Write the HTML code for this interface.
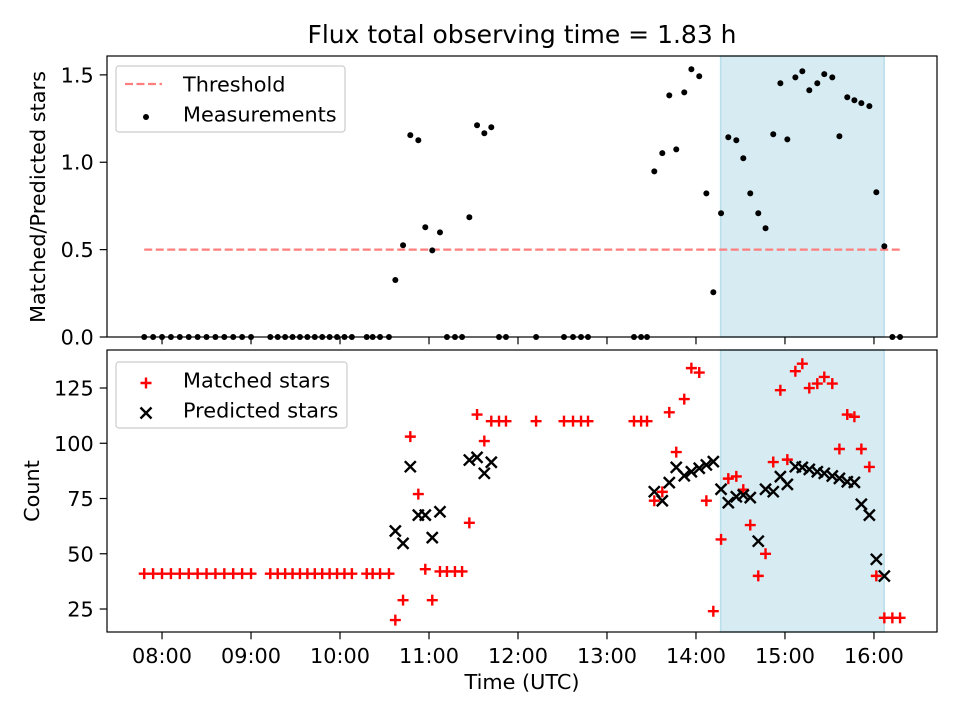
<!DOCTYPE html>
<html><head><meta charset="utf-8"><style>
body{margin:0;background:#fff}
svg text{font-family:"DejaVu Sans","Liberation Sans",sans-serif;fill:#000}
</style></head><body>
<svg id="chart" width="960" height="720" viewBox="0 0 960 720" xmlns="http://www.w3.org/2000/svg">
<rect width="960" height="720" fill="#fff"/>
<text x="522" y="43" font-size="25" text-anchor="middle">Flux total observing time = 1.83 h</text>
<g id="topPanel"></g>
<g id="botPanel"></g>
<text transform="translate(45,197) rotate(-90)" font-size="20.8" text-anchor="middle">Matched/Predicted stars</text>
<text transform="translate(39,491) rotate(-90)" font-size="20.8" text-anchor="middle">Count</text>
<text x="522" y="689" font-size="20.8" text-anchor="middle">Time (UTC)</text>
</svg>
<script>
// times in minutes since midnight (UTC)
const times = [468,474,480,486,492,498,504,510,516,522,528,534,540,
553,558,563,568,573,578,583,588,593,598,603,608,
618,622,627,633,
637.3,642.5,647.4,652.8,657.5,662.2,667.4,672.1,677.5,682.3,687.2,692.4,697.3,702,707.2,711.9,
732.2,751,757.1,762.5,767.2,798.2,803,807,
811.9,817.3,822,826.7,832.1,836.9,842.2,847,851.7,856.9,861.8,867.2,871.9,876.6,882,886.9,892.1,896.9,901.6,907,911.7,916.4,921.8,926.5,931.9,936.7,942,946.8,951.5,956.9,961.6,967,972.4,977.6];
const ratio = [0,0,0,0,0,0,0,0,0,0,0,0,0,
0,0,0,0,0,0,0,0,0,0,0,0,
0,0,0,0,
0.326,0.525,1.155,1.126,0.628,0.496,0.599,0,0,0,0.685,1.212,1.166,1.2,0,0,
0,0,0,0,0,0,0,0,
0.948,1.052,1.383,1.074,1.40,1.532,1.492,0.822,0.256,0.708,1.143,1.126,1.023,0.822,0.708,0.622,1.16,1.452,1.131,1.486,1.521,1.412,1.452,1.504,1.486,1.149,1.372,1.355,1.338,1.321,0.828,0.519,0,0];
const matched = [41,41,41,41,41,41,41,41,41,41,41,41,41,
41,41,41,41,41,41,41,41,41,41,41,41,
41,41,41,41,
20,29,103,77,43,29,42,42,42,42,64,113,101,110,110,110,
110,110,110,110,110,110,110,110,
74,78,114,96,120,134,132,74,24,56.5,84,85,79,63,40,50,91.5,124,92.6,132.6,136,125,127,130,127,97.4,113,112,97.4,89.3,40,21,21,21];
const predicted = [null,null,null,null,null,null,null,null,null,null,null,null,null,
null,null,null,null,null,null,null,null,null,null,null,null,
null,null,null,null,
60.3,54.7,89.4,67.5,67.5,57.3,69,null,null,null,92.4,93.6,86.4,91.4,null,null,
null,null,null,null,null,null,null,null,
78.1,74,82.2,89.1,85.3,87.1,88.7,90.2,91.7,79.2,73.1,75.8,76.6,75.4,55.7,79.2,78.1,84.9,81.4,89.4,89.1,88.2,87.1,86.4,85.2,84.1,82.6,82.3,72.4,67.5,47.5,39.9,null,null];
const threshold = 0.5;
const windowStart = 856.6, windowEnd = 966.9;
const xTickLabels = ["08:00","09:00","10:00","11:00","12:00","13:00","14:00","15:00","16:00"];
const xTickValues = [480,540,600,660,720,780,840,900,960];
const ratioTicks = [0,0.5,1.0,1.5];
const countTicks = [25,50,75,100,125];

const NS="http://www.w3.org/2000/svg";
const L=107,R=937;
const X0=442.9,X1=1002.5;
const x=t=>L+(t-X0)/(X1-X0)*(R-L);
const T={top:56,bot:337,min:0,max:1.608};
const B={top:350,bot:632,min:14.6,max:142.2};
const yT=v=>T.bot-(v-T.min)/(T.max-T.min)*(T.bot-T.top);
const yB=v=>B.bot-(v-B.min)/(B.max-B.min)*(B.bot-B.top);
function el(p,tag,a){const e=document.createElementNS(NS,tag);for(const k in a)e.setAttribute(k,a[k]);p.appendChild(e);return e;}
const topG=document.getElementById('topPanel'), botG=document.getElementById('botPanel');
const FS=20.8, TL=7.3, MH=5.5, MW=2.4;

function panel(g,P,yf,ticks,fmt,labels){
  let s=el(g,'rect',{x:x(windowStart),y:P.top,width:x(windowEnd)-x(windowStart),height:P.bot-P.top,fill:'#add8e6','fill-opacity':0.5,stroke:'#add8e6','stroke-opacity':0.8,'stroke-width':1.5});
  
  
  xTickValues.forEach((v,i)=>{
    let t=el(g,'line',{x1:x(v),x2:x(v),y1:P.bot,y2:P.bot+TL,stroke:'#000','stroke-width':1.2});
    
    
    if(labels){let tx=el(g,'text',{x:x(v),y:663,'font-size':FS,'text-anchor':'middle'});tx.textContent=xTickLabels[i];
      
      }
  });
  ticks.forEach(v=>{
    let t=el(g,'line',{x1:L-TL,x2:L,y1:yf(v),y2:yf(v),stroke:'#000','stroke-width':1.2});
    
    
    let tx=el(g,'text',{x:L-TL-6,y:yf(v)+7.5,'font-size':FS,'text-anchor':'end'});tx.textContent=fmt(v);
    
    
  });
}
panel(topG,T,yT,ratioTicks,v=>v.toFixed(1),false);
panel(botG,B,yB,countTicks,v=>String(v),true);

let th=el(topG,'line',{x1:x(times[0]),x2:x(times[times.length-1]),y1:yT(threshold),y2:yT(threshold),stroke:'#ff7f7f','stroke-width':2.2,'stroke-dasharray':'8,3.5'});


times.forEach((t,i)=>{
  let c=el(topG,'circle',{cx:x(t),cy:yT(ratio[i]),r:3,fill:'#000'});
  
  
});
times.forEach((t,i)=>{
  const cx=x(t),cy=yB(matched[i]),h=MH;
  let p=el(botG,'path',{d:`M${cx-h},${cy}H${cx+h}M${cx},${cy-h}V${cy+h}`,stroke:'#f00','stroke-width':MW});
  
  
});
times.forEach((t,i)=>{
  if(predicted[i]===null)return;
  const cx=x(t),cy=yB(predicted[i]),h=MH;
  let p=el(botG,'path',{d:`M${cx-h},${cy-h}L${cx+h},${cy+h}M${cx-h},${cy+h}L${cx+h},${cy-h}`,stroke:'#000','stroke-width':MW});
  
  
});
[[topG,T],[botG,B]].forEach(([g,P])=>{
  let f=el(g,'rect',{x:L,y:P.top,width:R-L,height:P.bot-P.top,fill:'none',stroke:'#000','stroke-width':1.2});
  
  
});
function legend(g,y0,w,items){
  let b=el(g,'rect',{x:116,y:y0,width:w,height:66,rx:3,fill:'#fff','fill-opacity':0.8,stroke:'#ccc','stroke-width':1.2});
  
  
  items.forEach((it,i)=>{
    const cy=y0+18+i*30;
    it.draw(146,cy);
    let t=el(g,'text',{x:183,y:cy+7.5,'font-size':FS});t.textContent=it.label;
    
    
  });
}
legend(topG,66,229,[
 {label:'Threshold',draw:(cx,cy)=>el(topG,'line',{x1:cx-21,x2:cx+16,y1:cy,y2:cy,stroke:'#ff7f7f','stroke-width':2.2,'stroke-dasharray':'8,3.5'})},
 {label:'Measurements',draw:(cx,cy)=>el(topG,'circle',{cx:cx,cy:cy+3,r:3,fill:'#000'})}
]);
legend(botG,362,231,[
 {label:'Matched stars',draw:(cx,cy)=>el(botG,'path',{d:`M${cx-MH},${cy+3}H${cx+MH}M${cx},${cy+3-MH}V${cy+3+MH}`,stroke:'#f00','stroke-width':MW})},
 {label:'Predicted stars',draw:(cx,cy)=>el(botG,'path',{d:`M${cx-MH},${cy+3-MH}L${cx+MH},${cy+3+MH}M${cx-MH},${cy+3+MH}L${cx+MH},${cy+3-MH}`,stroke:'#000','stroke-width':MW})}
]);
</script>
</body></html>
